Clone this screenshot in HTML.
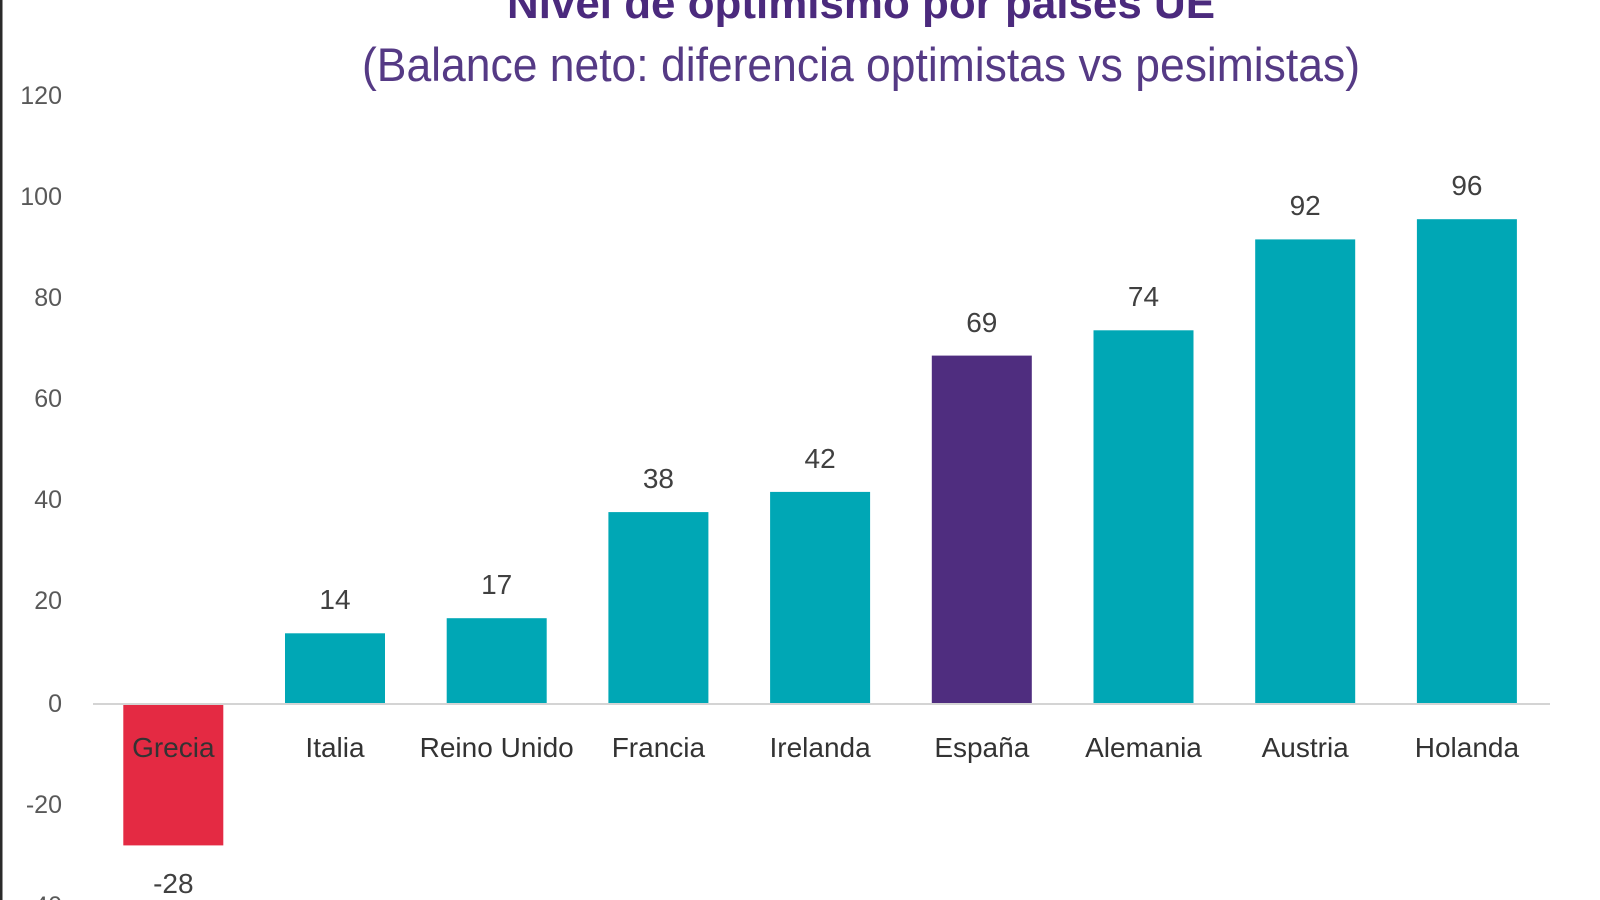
<!DOCTYPE html>
<html>
<head>
<meta charset="utf-8">
<style>
  html, body { margin: 0; padding: 0; background: #ffffff; }
  body { width: 1600px; height: 900px; overflow: hidden; }
  svg { display: block; }
  text { font-family: "Liberation Sans", sans-serif; }
</style>
</head>
<body>
<svg width="1600" height="900" viewBox="0 0 1600 900" xmlns="http://www.w3.org/2000/svg">
  <rect x="0" y="0" width="1600" height="900" fill="#ffffff"/>
  <!-- left border -->
  <rect x="0" y="0" width="2.5" height="900" fill="#2a2a2a"/>

  <!-- Title -->
  <text x="507" y="18" font-size="44" font-weight="bold" fill="#4b2a7d" textLength="708" lengthAdjust="spacingAndGlyphs">Nivel de optimismo por países UE</text>
  <text x="362" y="81" font-size="47" fill="#553a85" textLength="998" lengthAdjust="spacingAndGlyphs">(Balance neto: diferencia optimistas vs pesimistas)</text>

  <!-- Y axis labels -->
  <g font-size="25" fill="#595959" text-anchor="end">
    <text x="62" y="104">120</text>
    <text x="62" y="205">100</text>
    <text x="62" y="306">80</text>
    <text x="62" y="407">60</text>
    <text x="62" y="508">40</text>
    <text x="62" y="609">20</text>
    <text x="62" y="712">0</text>
    <text x="62" y="813">-20</text>
    <text x="62" y="914">-40</text>
  </g>

  <!-- Bars -->
  <rect x="123.3" y="704" width="100" height="141.4" fill="#e42a43"/>
  <rect x="285" y="633.3" width="100" height="70.7" fill="#00a7b5"/>
  <rect x="446.7" y="618.2" width="100" height="85.8" fill="#00a7b5"/>
  <rect x="608.4" y="512.1" width="100" height="191.9" fill="#00a7b5"/>
  <rect x="770.1" y="491.9" width="100" height="212.1" fill="#00a7b5"/>
  <rect x="931.8" y="355.6" width="100" height="348.4" fill="#4f2d7f"/>
  <rect x="1093.5" y="330.3" width="100" height="373.7" fill="#00a7b5"/>
  <rect x="1255.2" y="239.4" width="100" height="464.6" fill="#00a7b5"/>
  <rect x="1416.9" y="219.2" width="100" height="484.8" fill="#00a7b5"/>

  <!-- Zero line -->
  <rect x="93" y="703" width="1457" height="2" fill="#d4d4d4"/>

  <!-- Value labels -->
  <g font-size="28" fill="#404040" text-anchor="middle">
    <text x="173.3" y="893">-28</text>
    <text x="335" y="609">14</text>
    <text x="496.7" y="594">17</text>
    <text x="658.4" y="488">38</text>
    <text x="820.1" y="468">42</text>
    <text x="981.8" y="332">69</text>
    <text x="1143.5" y="306">74</text>
    <text x="1305.2" y="215">92</text>
    <text x="1466.9" y="195">96</text>
  </g>

  <!-- Category labels -->
  <g font-size="28" fill="#333333" text-anchor="middle">
    <text x="173.3" y="757">Grecia</text>
    <text x="335" y="757">Italia</text>
    <text x="496.7" y="757">Reino Unido</text>
    <text x="658.4" y="757">Francia</text>
    <text x="820.1" y="757">Irelanda</text>
    <text x="981.8" y="757">España</text>
    <text x="1143.5" y="757">Alemania</text>
    <text x="1305.2" y="757">Austria</text>
    <text x="1466.9" y="757">Holanda</text>
  </g>
</svg>
</body>
</html>
